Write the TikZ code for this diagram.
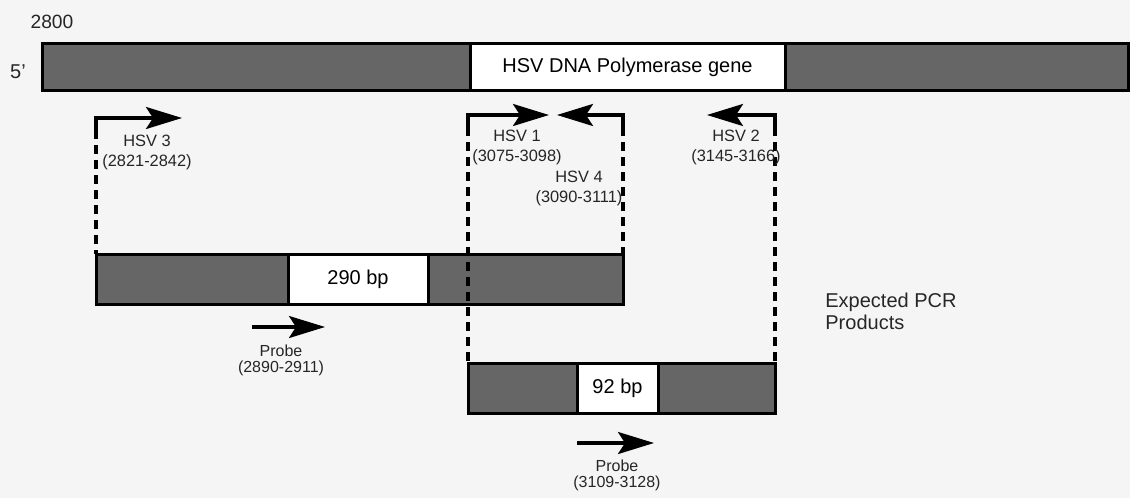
\documentclass[tikz,border=0pt]{standalone}
\usepackage{fontspec}
\setmainfont{Liberation Sans}
\usetikzlibrary{arrows.meta,positioning}

\begin{document}
\begin{tikzpicture}[x=0.5pt,y=-0.5pt,
    seg/.style={draw, line width=1.5pt, minimum height=23.5pt, inner sep=0pt, outer sep=0pt},
    darkseg/.style={seg, fill=black!60},
    lightseg/.style={seg, fill=white, font=\fontsize{10}{12}\selectfont},
    lbl/.style={align=center, font=\fontsize{8.2}{10}\selectfont, inner sep=0pt, text=black!85},
    probelbl/.style={lbl, font=\fontsize{8}{8}\selectfont},
    txt/.style={font=\fontsize{10}{11}\selectfont, inner sep=0pt, text=black!85},
    primer/.style={line width=1.6pt, line join=miter, -{Stealth[length=18pt,width=11pt,inset=3.5pt]}},
    guide/.style={line width=1.7pt, dash pattern=on 4.5pt off 3pt}
]
\path[use as bounding box, fill=black!4] (0,0) rectangle (1130,498);

% genomic strand
\node[darkseg, minimum width=214pt, anchor=west] (g1) at (42,67) {};
\node[lightseg, minimum width=157.5pt, right=0pt of g1] (g2) {HSV DNA Polymerase gene};
\node[darkseg, minimum width=171.5pt, right=0pt of g2] (g3) {};
\node[txt, font=\fontsize{9.6}{11}\selectfont] (start) at (52,22) {2800};
\node[txt] (end5) at (18,72) {5'};

% expected PCR products
\node[darkseg, minimum height=25pt, minimum width=96pt, anchor=west] (p1a) at (96,279) {};
\node[lightseg, minimum height=25pt, minimum width=70pt, right=0pt of p1a] (p1b) {290 bp};
\node[darkseg, minimum height=25pt, minimum width=97.5pt, right=0pt of p1b] (p1c) {};

\node[darkseg, minimum height=25pt, minimum width=54.5pt, anchor=west] (p2a) at (468,388) {};
\node[lightseg, minimum height=25pt, minimum width=40.5pt, right=0pt of p2a] (p2b) {92 bp};
\node[darkseg, minimum height=25pt, minimum width=58.5pt, right=0pt of p2b] (p2c) {};

\node[txt, align=left, anchor=west] (prod) at (825,311) {Expected PCR\\Products};

% primers
\coordinate (h3) at (96,118);  \coordinate (h3tip) at (182,118);
\coordinate (h1) at (468,115); \coordinate (h1tip) at (549,115);
\coordinate (h4) at (623,115); \coordinate (h4tip) at (557,115);
\coordinate (h2) at (775,115); \coordinate (h2tip) at (707,115);

\foreach \c/\t in {h3/h3tip, h1/h1tip, h4/h4tip, h2/h2tip}
  \draw[primer] (\c) ++(0,12) -- (\c) -- (\t);

\draw[guide] (h3) ++(0,12) -- (h3 |- p1a.north);
\draw[guide] (h1) ++(0,12) -- (h1 |- p2a.north);
\draw[guide] (h4) ++(0,12) -- (h4 |- p1c.north);
\draw[guide] (h2) ++(0,12) -- (h2 |- p2c.north);

\node[lbl] (l3) at (147,152) {HSV 3\\(2821-2842)};
\node[lbl] (l1) at (517,147) {HSV 1\\(3075-3098)};
\node[lbl] (l4) at (579,188) {HSV 4\\(3090-3111)};
\node[lbl] (l2) at (736,147) {HSV 2\\(3145-3166)};

% probes
\coordinate (pr1s) at (252,327); \coordinate (pr1e) at (325,327);
\coordinate (pr2s) at (577,443); \coordinate (pr2e) at (654,443);
\draw[primer] (pr1s) -- (pr1e);
\draw[primer] (pr2s) -- (pr2e);
\node[probelbl] (pl1) at (281,360) {Probe\\(2890-2911)};
\node[probelbl] (pl2) at (617,475) {Probe\\(3109-3128)};
\end{tikzpicture}
\end{document}
